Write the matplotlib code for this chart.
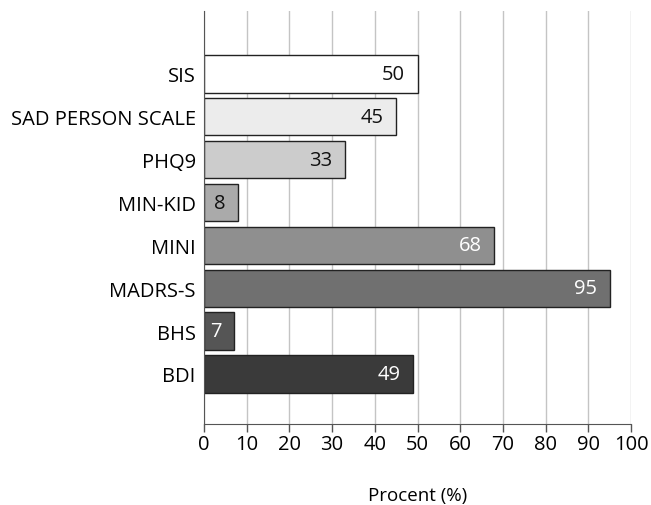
import matplotlib
matplotlib.use("Agg")
import matplotlib.pyplot as plt

categories = ["SIS", "SAD PERSON SCALE", "PHQ9", "MIN-KID", "MINI", "MADRS-S", "BHS", "BDI"]
values = [50, 45, 33, 8, 68, 95, 7, 49]
bar_colors = ["#ffffff", "#ececec", "#cccccc", "#aaaaaa", "#8f8f8f", "#707070", "#555555", "#3a3a3a"]
label_colors = ["#111111", "#111111", "#111111", "#111111", "#ffffff", "#ffffff", "#ffffff", "#ffffff"]
x_ticks = [0, 10, 20, 30, 40, 50, 60, 70, 80, 90, 100]
x_label = "Procent (%)"

plt.rcParams["font.family"] = ["Open Sans", "DejaVu Sans"]

fig = plt.figure(figsize=(6.51, 5.06), dpi=100)
ax = fig.add_axes([204 / 651, 1 - 425 / 506, 427 / 651, 413 / 506])

pos = list(range(len(categories)))
ax.barh(pos, values, height=0.87, color=bar_colors, edgecolor="#222222", linewidth=1.0, zorder=3)

for p, v, c in zip(pos, values, label_colors):
    ax.annotate(str(v), xy=(v, p), xytext=(-9, 0), textcoords="offset points",
                ha="right", va="center", fontsize=14.5, color=c, zorder=4)

ax.set_xlim(0, 100)
ax.set_ylim(8.17, -1.47)
ax.set_xticks(x_ticks)
ax.set_xticklabels([str(t) for t in x_ticks], fontsize=14.5)
ax.set_yticks(pos)
ax.set_yticklabels(categories, fontsize=14.5)
ax.tick_params(axis="y", length=0, pad=6)
ax.tick_params(axis="x", length=6, width=1, color="#555555", pad=1)
ax.xaxis.grid(True, color="#c4c4c4", linewidth=1, zorder=0)
ax.set_axisbelow(True)

for s in ["top", "right"]:
    ax.spines[s].set_visible(False)
ax.spines["left"].set_color("#555555")
ax.spines["bottom"].set_color("#555555")
ax.spines["left"].set_zorder(5)

ax.set_xlabel(x_label, fontsize=13.5, labelpad=23)

fig.savefig("out.png", dpi=100)
